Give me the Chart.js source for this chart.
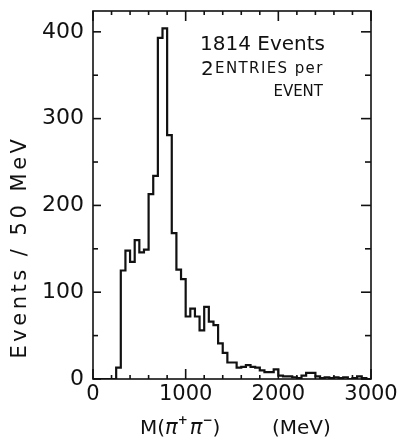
<!DOCTYPE html>
<html>
<head>
<meta charset="utf-8">
<script src="https://cdn.jsdelivr.net/npm/chart.js@4.4.0/dist/chart.umd.min.js"></script>
<style>
html, body { margin: 0; padding: 0; background: #fff; }
#wrap { width: 404px; height: 437px; position: relative; }
</style>
</head>
<body>
<div id="wrap"><canvas id="hist"></canvas></div>
<script>
// M(pi+ pi-) spectrum, 50 MeV bins from 0 to 3000 MeV
const binWidth = 50;
const counts = [
    0, 0, 0, 0, 0, 13, 125, 148, 135, 160,
    146, 149, 213, 234, 393, 404, 281, 168, 126, 115,
    72, 81, 72, 56, 83, 66, 62, 41, 30, 19,
    19, 13, 14, 16, 14, 13, 10, 8, 8, 11,
    4, 3, 3, 2, 1, 4, 7, 7, 3, 1,
    2, 1, 2, 1, 2, 0, 1, 3, 1, 0
];
const xRange = [0, 3000];
const yRange = [0, 424];
const xLabelTicks = [0, 1000, 2000, 3000];
const xMinorTicks = [200, 400, 600, 800, 1200, 1400, 1600, 1800, 2200, 2400, 2600, 2800];
const yLabelTicks = [0, 100, 200, 300, 400];
const yMinorTicks = [50, 150, 250, 350];

const ink = '#111';
const fontFamily = '"DejaVu Sans", sans-serif';

// histogram edges: each bin starts at i*binWidth, last edge closes the final bin
const points = counts.map((c, i) => ({ x: i * binWidth, y: c }));
points.push({ x: counts.length * binWidth, y: counts[counts.length - 1] });

function line(ctx, x1, y1, x2, y2) {
    ctx.beginPath();
    ctx.moveTo(x1, y1);
    ctx.lineTo(x2, y2);
    ctx.stroke();
}

const framePlugin = {
    id: 'frame',
    afterDraw(chart) {
        const { ctx, chartArea: a, scales: { x, y } } = chart;
        ctx.save();
        ctx.strokeStyle = ink;
        ctx.lineWidth = 1.6;
        ctx.strokeRect(a.left, a.top, a.right - a.left, a.bottom - a.top);

        xLabelTicks.forEach(v => {
            const p = x.getPixelForValue(v);
            line(ctx, p, a.bottom, p, a.bottom - 10);
            line(ctx, p, a.top, p, a.top + 10);
        });
        xMinorTicks.forEach(v => {
            const p = x.getPixelForValue(v);
            line(ctx, p, a.bottom, p, a.bottom - 4);
            line(ctx, p, a.top, p, a.top + 4);
        });
        yLabelTicks.forEach(v => {
            const p = y.getPixelForValue(v);
            line(ctx, a.left, p, a.left + 8, p);
            line(ctx, a.right, p, a.right - 10, p);
        });
        yMinorTicks.forEach(v => {
            const p = y.getPixelForValue(v);
            line(ctx, a.left, p, a.left + 5, p);
            line(ctx, a.right, p, a.right - 6, p);
        });

        ctx.fillStyle = ink;

        // y title
        ctx.save();
        ctx.translate(21, 247);
        ctx.rotate(-Math.PI / 2);
        ctx.font = '21px ' + fontFamily;
        ctx.letterSpacing = '3.5px';
        ctx.textAlign = 'center';
        ctx.textBaseline = 'middle';
        ctx.fillText('Events / 50 MeV', 0, 0);
        ctx.restore();

        // x title
        ctx.textBaseline = 'alphabetic';
        ctx.textAlign = 'left';
        let cx = 140;
        const base = 434;
        const put = (txt, font, dy) => {
            ctx.font = font;
            ctx.fillText(txt, cx, base + (dy || 0));
            cx += ctx.measureText(txt).width;
        };
        put('M(', '20px ' + fontFamily);
        put('\u03c0', 'italic 21px ' + fontFamily);
        put('+', 'bold 12px ' + fontFamily, -10);
        cx += 2;
        put('\u03c0', 'italic 21px ' + fontFamily);
        put('\u2212', 'bold 12px ' + fontFamily, -10);
        put(')', '20px ' + fontFamily);
        cx = 272;
        put('(MeV)', '20px ' + fontFamily);

        // annotation
        ctx.font = '20px ' + fontFamily;
        ctx.fillText('1814 Events', 200, 50);
        ctx.fillText('2', 201, 75);
        ctx.save();
        ctx.font = '15px ' + fontFamily;
        ctx.letterSpacing = '1.4px';
        ctx.fillText('ENTRIES per', 215, 73);
        ctx.letterSpacing = '0px';
        ctx.textAlign = 'right';
        ctx.fillText('EVENT', 323, 96);
        ctx.restore();
        ctx.restore();
    }
};

new Chart(document.getElementById('hist'), {
    type: 'line',
    data: {
        datasets: [{
            data: points,
            stepped: 'before',
            borderColor: ink,
            borderWidth: 2.2,
            pointRadius: 0,
            fill: false
        }]
    },
    options: {
        responsive: true,
        maintainAspectRatio: false,
        animation: false,
        layout: { padding: { left: 0, top: 11, right: 33, bottom: 0 } },
        plugins: { legend: { display: false }, tooltip: { enabled: false } },
        scales: {
            x: {
                type: 'linear',
                min: xRange[0],
                max: xRange[1],
                afterFit: s => { s.height = 58; },
                afterBuildTicks: s => { s.ticks = xLabelTicks.map(v => ({ value: v })); },
                grid: { display: false, drawTicks: false },
                border: { display: false },
                ticks: { color: ink, padding: 3, maxRotation: 0, callback: v => String(v), font: { family: fontFamily, size: 21 } }
            },
            y: {
                min: yRange[0],
                max: yRange[1],
                afterFit: s => { s.width = 93; s.paddingTop = 0; s.paddingBottom = 0; },
                afterBuildTicks: s => { s.ticks = yLabelTicks.map(v => ({ value: v })); },
                grid: { display: false, drawTicks: false },
                border: { display: false },
                ticks: { color: ink, padding: 9, callback: v => String(v), font: { family: fontFamily, size: 22 } }
            }
        }
    },
    plugins: [framePlugin]
});
</script>
</body>
</html>
